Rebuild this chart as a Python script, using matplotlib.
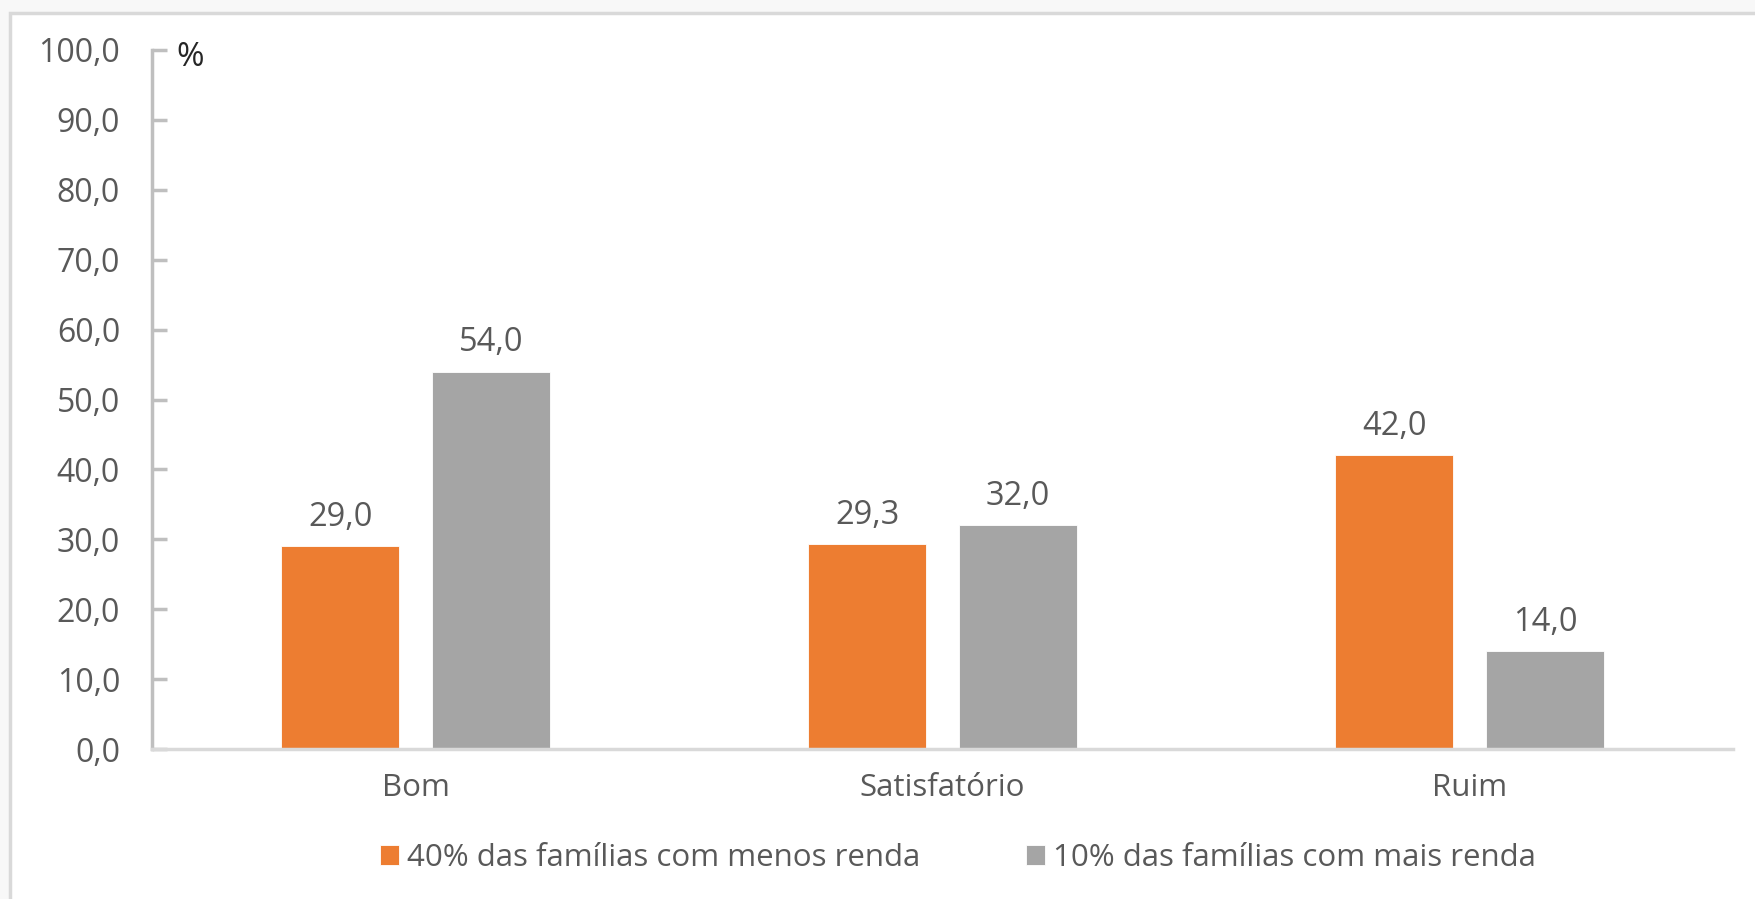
import numpy as np
import matplotlib
matplotlib.use('Agg')
import matplotlib.pyplot as plt
from matplotlib.patches import Rectangle

# dados
categorias = ['Bom', 'Satisfatório', 'Ruim']
menos_renda = [29.0, 29.3, 42.0]
mais_renda = [54.0, 32.0, 14.0]
nomes_series = ['40% das famílias com menos renda', '10% das famílias com mais renda']
cores = ['#ED7D31', '#A5A5A5']

plt.rcParams['font.family'] = ['Open Sans', 'DejaVu Sans']
cor_texto = '#595959'

fig = plt.figure(figsize=(17.56, 8.99), dpi=100, facecolor='#f8f8f8')
# moldura branca do gráfico
fig.patches.append(Rectangle((10 / 1756, -0.02), 1.0, 1.02 - 12.5 / 899, transform=fig.transFigure,
                             facecolor='white', edgecolor='#d9d9d9', linewidth=2.5, zorder=-5))

ax = fig.add_axes([152 / 1756, 1 - 749 / 899, (1733 - 152) / 1756, (749 - 50) / 899])
ax.set_facecolor('none')

x = np.arange(len(categorias))
largura = 0.224
desloc = 0.143
b1 = ax.bar(x - desloc, menos_renda, largura, color=cores[0], edgecolor='white', linewidth=0.6,
            label=nomes_series[0])
b2 = ax.bar(x + desloc, mais_renda, largura, color=cores[1], edgecolor='white', linewidth=0.6,
            label=nomes_series[1])

for barras, vals in [(b1, menos_renda), (b2, mais_renda)]:
    for b, v in zip(barras, vals):
        ax.annotate(f'{v:.1f}'.replace('.', ','), (b.get_x() + b.get_width() / 2, v),
                    xytext=(0, 9), textcoords='offset points', ha='center', va='bottom',
                    fontsize=23.5, color=cor_texto)

ax.set_xlim(-0.5, 2.5)
ax.set_ylim(0, 100)
ax.set_yticks(np.arange(0, 101, 10))
ax.set_yticklabels([f'{t:.1f}'.replace('.', ',') for t in np.arange(0, 101, 10)])
ax.set_xticks(x)
ax.set_xticklabels(categorias)

for s in ['top', 'right']:
    ax.spines[s].set_visible(False)
ax.spines['left'].set_color('#bfbfbf')
ax.spines['left'].set_linewidth(2.5)
ax.spines['bottom'].set_color('#d9d9d9')
ax.spines['bottom'].set_linewidth(2.5)

ax.tick_params(axis='y', direction='in', length=11, width=2.5, color='#bfbfbf',
               labelsize=23, labelcolor=cor_texto, pad=23)
ax.tick_params(axis='x', length=0, labelsize=22.5, labelcolor=cor_texto, pad=17)

ax.text(176 / 1756, 1 - 57 / 899, '%', transform=fig.transFigure, fontsize=24,
        color='#262626', ha='left', va='center')

fig.legend(loc='center', bbox_to_anchor=(958 / 1756, 1 - 858 / 899), ncol=2, frameon=False,
           fontsize=22.5, handlelength=0.6, handleheight=0.6, handletextpad=0.25,
           columnspacing=3.4, labelcolor=cor_texto)

fig.savefig('out.png', dpi=100, facecolor=fig.get_facecolor())
